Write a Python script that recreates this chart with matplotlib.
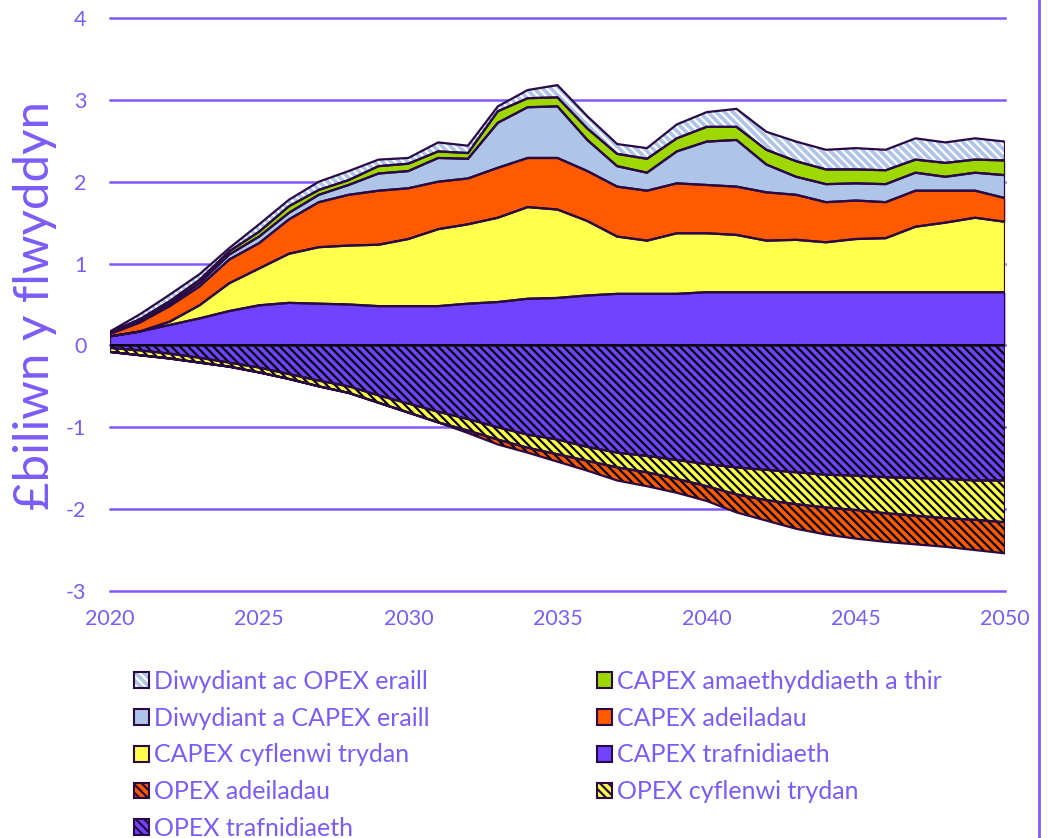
import numpy as np
import matplotlib
matplotlib.use('Agg')
import matplotlib.pyplot as plt
from matplotlib.patches import Patch
from matplotlib.lines import Line2D
from matplotlib.legend_handler import HandlerTuple

plt.rcParams['font.family'] = ['Lato', 'DejaVu Sans']
plt.rcParams['axes.unicode_minus'] = False
plt.rcParams['hatch.linewidth'] = 1.6

years = np.arange(2020, 2051)

# positive side, bottom to top (£bn per year)
capex_trafnidiaeth = [0.11, 0.17, 0.25, 0.33, 0.42, 0.49, 0.52, 0.51, 0.50, 0.48,
                      0.48, 0.48, 0.51, 0.53, 0.57, 0.58, 0.61, 0.63, 0.63, 0.63,
                      0.65, 0.65, 0.65, 0.65, 0.65, 0.65, 0.65, 0.65, 0.65, 0.65, 0.65]
capex_cyflenwi = [0.00, 0.00, 0.04, 0.16, 0.34, 0.45, 0.60, 0.69, 0.72, 0.75,
                  0.82, 0.94, 0.97, 1.03, 1.12, 1.08, 0.91, 0.70, 0.65, 0.74,
                  0.72, 0.70, 0.63, 0.64, 0.61, 0.65, 0.66, 0.80, 0.85, 0.91, 0.86]
capex_adeiladau = [0.03, 0.11, 0.19, 0.23, 0.29, 0.31, 0.42, 0.55, 0.62, 0.66,
                   0.62, 0.58, 0.56, 0.61, 0.60, 0.63, 0.61, 0.61, 0.61, 0.61,
                   0.59, 0.59, 0.59, 0.55, 0.49, 0.47, 0.44, 0.44, 0.39, 0.33, 0.29]
diwydiant_capex = [0.01, 0.02, 0.03, 0.04, 0.06, 0.08, 0.08, 0.09, 0.12, 0.21,
                   0.21, 0.29, 0.24, 0.55, 0.62, 0.63, 0.38, 0.25, 0.22, 0.39,
                   0.53, 0.57, 0.34, 0.22, 0.22, 0.21, 0.22, 0.22, 0.17, 0.22, 0.28]
capex_amaeth = [0.01, 0.02, 0.03, 0.04, 0.04, 0.06, 0.08, 0.06, 0.06, 0.09,
                0.09, 0.08, 0.07, 0.14, 0.11, 0.11, 0.14, 0.15, 0.17, 0.16,
                0.18, 0.16, 0.18, 0.19, 0.18, 0.17, 0.17, 0.16, 0.17, 0.16, 0.18]
diwydiant_opex = [0.01, 0.06, 0.08, 0.07, 0.04, 0.09, 0.08, 0.10, 0.11, 0.08,
                  0.07, 0.11, 0.09, 0.06, 0.10, 0.15, 0.15, 0.12, 0.13, 0.17,
                  0.18, 0.22, 0.22, 0.24, 0.24, 0.26, 0.25, 0.26, 0.25, 0.26, 0.23]

# negative side, top to bottom
opex_trafnidiaeth = [-0.03, -0.06, -0.10, -0.15, -0.21, -0.27, -0.35, -0.43, -0.50, -0.61,
                     -0.71, -0.81, -0.90, -1.00, -1.09, -1.15, -1.24, -1.31, -1.35, -1.40,
                     -1.45, -1.49, -1.52, -1.55, -1.58, -1.59, -1.61, -1.62, -1.63, -1.65, -1.65]
opex_cyflenwi = [-0.05, -0.06, -0.06, -0.06, -0.05, -0.06, -0.06, -0.07, -0.08, -0.09,
                 -0.11, -0.13, -0.14, -0.15, -0.16, -0.18, -0.17, -0.18, -0.20, -0.23,
                 -0.27, -0.33, -0.37, -0.39, -0.40, -0.42, -0.44, -0.46, -0.48, -0.48, -0.51]
opex_adeiladau = [0.00, 0.00, 0.00, 0.00, 0.00, 0.00, 0.00, 0.00, 0.00, 0.00,
                  0.00, 0.00, -0.03, -0.06, -0.06, -0.09, -0.12, -0.16, -0.17, -0.17,
                  -0.18, -0.22, -0.25, -0.30, -0.33, -0.35, -0.35, -0.35, -0.35, -0.37, -0.38]

TEXT = '#7B5CF8'
GRID = '#7F5BFF'
OUTLINE = '#2A0A45'
PURPLE = '#7043FF'
YELLOW = '#FFFF4D'
ORANGE = '#FF5A00'
LBLUE = '#AEC5E8'
GREEN = '#9FD700'
HATCH = '\\\\\\\\'

fig = plt.figure(figsize=(10.48, 8.38), dpi=100)
ax = fig.add_axes([110 / 1048, 1 - 591 / 838, 895 / 1048, 573 / 838])


def layer(base, vals, face, hatch=None, hatch_col='black'):
    top = base + np.array(vals)
    ax.fill_between(years, base, top, facecolor=face, hatch=hatch,
                    edgecolor=hatch_col, linewidth=0, zorder=2)
    ax.fill_between(years, base, top, facecolor='none', edgecolor=OUTLINE,
                    linewidth=1.6, zorder=3)
    return top


base = np.zeros(len(years))
base = layer(base, capex_trafnidiaeth, PURPLE)
base = layer(base, capex_cyflenwi, YELLOW)
base = layer(base, capex_adeiladau, ORANGE)
base = layer(base, diwydiant_capex, LBLUE)
base = layer(base, capex_amaeth, GREEN)
base = layer(base, diwydiant_opex, LBLUE, HATCH, 'white')

base = np.zeros(len(years))
base = layer(base, opex_trafnidiaeth, PURPLE, HATCH)
base = layer(base, opex_cyflenwi, YELLOW, HATCH)
base = layer(base, opex_adeiladau, ORANGE, HATCH)
ax.axhline(0, color='black', linewidth=1.2, zorder=4)

ax.set_xlim(2020, 2050)
ax.set_ylim(-3, 4)
ax.set_xticks(range(2020, 2051, 5))
ax.set_yticks(range(-3, 5))
ax.yaxis.grid(True, color=GRID, linewidth=1.8)
for gl in ax.get_ygridlines():
    gl.set_clip_on(False)
ax.set_axisbelow(True)
for s in ax.spines.values():
    s.set_visible(False)
ax.tick_params(axis='y', length=0, colors=TEXT, labelsize=15.5, pad=17)
ax.tick_params(axis='x', length=0, colors=TEXT, labelsize=15.5, pad=13)

fig.text(35 / 1048, 1 - 305 / 838, '£biliwn y flwyddyn', rotation=90,
         ha='center', va='center', color=TEXT, fontsize=35.5)

fig.add_artist(Line2D([1039 / 1048] * 2, [0, 1], transform=fig.transFigure,
                      color=GRID, linewidth=2))


def handle(face, hatch=None, hatch_col=None):
    if hatch_col is not None:
        return (Patch(facecolor=face, hatch=hatch, edgecolor=hatch_col, linewidth=0),
                Patch(facecolor='none', edgecolor=OUTLINE, linewidth=1.5))
    return Patch(facecolor=face, hatch=hatch, edgecolor=OUTLINE, linewidth=1.5)


col1 = [(handle(LBLUE, HATCH, 'white'), 'Diwydiant ac OPEX eraill'),
        (handle(LBLUE), 'Diwydiant a CAPEX eraill'),
        (handle(YELLOW), 'CAPEX cyflenwi trydan'),
        (handle(ORANGE, HATCH), 'OPEX adeiladau'),
        (handle(PURPLE, HATCH), 'OPEX trafnidiaeth')]
col2 = [(handle(GREEN), 'CAPEX amaethyddiaeth a thir'),
        (handle(ORANGE), 'CAPEX adeiladau'),
        (handle(PURPLE), 'CAPEX trafnidiaeth'),
        (handle(YELLOW, HATCH), 'OPEX cyflenwi trydan')]

for entries, x0 in [(col1, 134 / 1048), (col2, 597 / 1048)]:
    fig.legend([h for h, _ in entries], [l for _, l in entries],
               loc='upper left', bbox_to_anchor=(x0, 1 - 670 / 838),
               frameon=False, fontsize=18, labelcolor=TEXT,
               handlelength=0.6, handleheight=0.6, handletextpad=0.2,
               labelspacing=0.55, borderpad=0, borderaxespad=0,
               handler_map={tuple: HandlerTuple(ndivide=1, pad=0)})

fig.savefig('out.png', dpi=100)
